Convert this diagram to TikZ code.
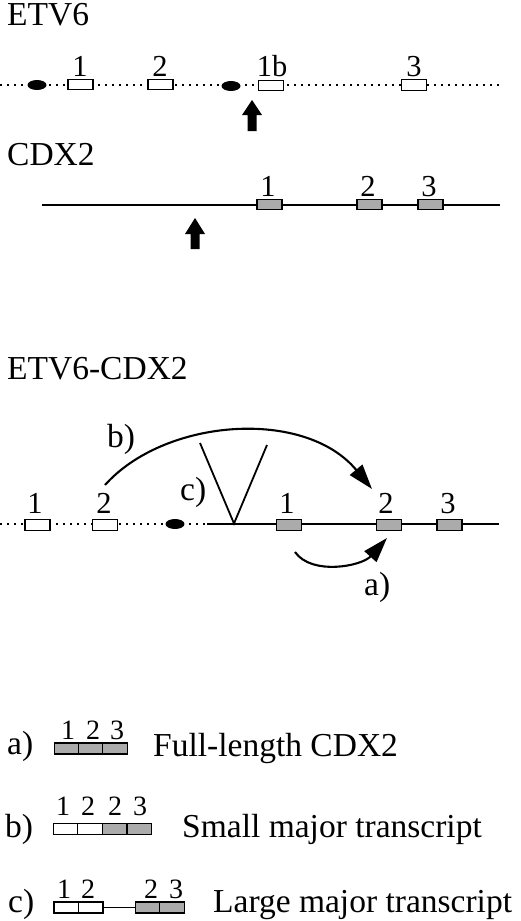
\documentclass[tikz,border=0pt]{standalone}
\usepackage{fontspec}
\setmainfont{Liberation Serif}
\usetikzlibrary{arrows.meta,shapes.geometric}
\begin{document}
\begin{tikzpicture}[x=1pt,y=-1pt,
 exon/.style={draw, line width=1.4pt, minimum width=25pt, minimum height=10.5pt, inner sep=0pt},
 wex/.style={exon, fill=white},
 gex/.style={exon, fill=black!33},
 num/.style={font=\fontsize{30.5}{32}\selectfont, inner sep=0pt, anchor=base},
 lnum/.style={font=\fontsize{28}{30}\selectfont, inner sep=0pt, anchor=base},
 lbl/.style={font=\fontsize{33.5}{36}\selectfont, inner sep=0pt, anchor=base west},
 dotline/.style={line width=1.6pt, dash pattern=on 1.6pt off 5.4pt},
 solidline/.style={line width=1.6pt},
 blob/.style={ellipse, fill=black, minimum width=19pt, minimum height=10pt, inner sep=0pt},
 curve/.style={line width=2.1pt, -{Triangle[length=25pt,width=16pt]}},
 lex/.style={draw, line width=1.4pt, minimum width=24.5pt, minimum height=11pt, inner sep=0pt}
]
\useasboundingbox (0,0) rectangle (520,921);

% ---------- ETV6 ----------
\node[lbl] (t1) at (7,25) {ETV6};
\coordinate (e6L) at (0,85);
\coordinate (e6R) at (502,85);
\draw[dotline] (e6L) -- (e6R);
\node[blob] (e6d1) at (37,85) {};
\node[blob] (e6d2) at (231,86) {};
\node[wex] (e6x1) at (80.5,84.5) {};
\node[wex] (e6x2) at (160.5,84.5) {};
\node[wex] (e6x1b) at (271,85.5) {};
\node[wex] (e6x3) at (414,85) {};
\node[num] (e6n1) at (80,76) {1};
\node[num] (e6n2) at (160,76) {2};
\node[num] (e6n1b) at (272,76) {1b};
\node[num] (e6n3) at (414,76) {3};
\fill (252,100) -- (262,115) -- (256.5,115) -- (256.5,131) -- (247.5,131) -- (247.5,115) -- (242,115) -- cycle;

% ---------- CDX2 ----------
\node[lbl] (t2) at (7,165.5) {CDX2};
\coordinate (cdL) at (42,205);
\coordinate (cdR) at (500,205);
\draw[solidline] (cdL) -- (cdR);
\node[gex] (cdx1) at (269.5,204.5) {};
\node[gex] (cdx2) at (369.5,204.5) {};
\node[gex] (cdx3) at (430.5,204.5) {};
\node[num] (cdn1) at (268,196) {1};
\node[num] (cdn2) at (368,196) {2};
\node[num] (cdn3) at (429,196) {3};
\fill (195,218) -- (205,234) -- (199.5,234) -- (199.5,249) -- (190.5,249) -- (190.5,234) -- (185,234) -- cycle;

% ---------- ETV6-CDX2 ----------
\node[lbl] (t3) at (7,379) {ETV6-CDX2};
\coordinate (fL) at (0,524);
\coordinate (fJ) at (207,524);
\coordinate (fR) at (499,524);
\draw[dotline] (fL) -- (fJ);
\draw[solidline] (fJ) -- (fR);
\node[blob] (fd) at (175,524) {};
\node[wex] (fx1) at (37.5,525) {};
\node[wex] (fx2) at (105,525) {};
\node[gex] (fg1) at (289,525) {};
\node[gex] (fg2) at (389,525) {};
\node[gex] (fg3) at (449.5,525) {};
\node[num] (fn1) at (35,513) {1};
\node[num] (fn2) at (104,513) {2};
\node[num] (fn3) at (287,513) {1};
\node[num] (fn4) at (386,513) {2};
\node[num] (fn5) at (448,513) {3};
% V insertion
\coordinate (vL) at (200,443);
\coordinate (vB) at (234,523.5);
\coordinate (vR) at (267,445);
\draw[line width=1.8pt] (vL) -- (vB) -- (vR);
% curved arrows
\coordinate (bS) at (105,485);
\coordinate (bE) at (372,489);
\draw[curve] (bS) .. controls (165,418) and (305,408) .. (bE);
\coordinate (aS) at (295,552);
\coordinate (aE) at (387,538);
\draw[curve] (aS) .. controls (312,576) and (362,566) .. (aE);
\node[lbl] (lb) at (107,447) {b)};
\node[lbl] (lc) at (180,500) {c)};
\node[lbl] (la) at (364,595) {a)};

% ---------- legend ----------
\node[lbl] (La) at (7,754) {a)};
\node[lex, fill=black!33] (a1) at (67,748.5) {};
\node[lex, fill=black!33] (a2) at (91,748.5) {};
\node[lex, fill=black!33] (a3) at (115,748.5) {};
\node[lnum] (an1) at (68,739) {1};
\node[lnum] (an2) at (93,739) {2};
\node[lnum] (an3) at (117,739) {3};
\node[lbl] (at) at (153,756) {Full-length CDX2};

\node[lbl] (Lb) at (5,837) {b)};
\node[lex, fill=white] (b1) at (65.5,829) {};
\node[lex, fill=white] (b2) at (90,829) {};
\node[lex, fill=black!33] (b3) at (114.5,829) {};
\node[lex, fill=black!33] (b4) at (139.5,829) {};
\node[lnum] (bn1) at (63,815) {1};
\node[lnum] (bn2) at (88,815) {2};
\node[lnum] (bn3) at (115,815) {2};
\node[lnum] (bn4) at (140,815) {3};
\node[lbl] (bt) at (182,837) {Small major transcript};

\node[lbl] (Lc) at (8,912) {c)};
\node[lex, fill=white] (c1) at (66.25,907.5) {};
\node[lex, fill=white] (c2) at (90.75,907.5) {};
\node[lex, fill=black!33] (c3) at (147.5,907.5) {};
\node[lex, fill=black!33] (c4) at (172,907.5) {};
\draw[solidline] (c2.east) -- (c3.west);
\node[lnum] (cn1) at (64,898) {1};
\node[lnum] (cn2) at (88,898) {2};
\node[lnum] (cn3) at (151,898) {2};
\node[lnum] (cn4) at (176,898) {3};
\node[lbl] (ct) at (213,912) {Large major transcript};
\end{tikzpicture}
\end{document}
